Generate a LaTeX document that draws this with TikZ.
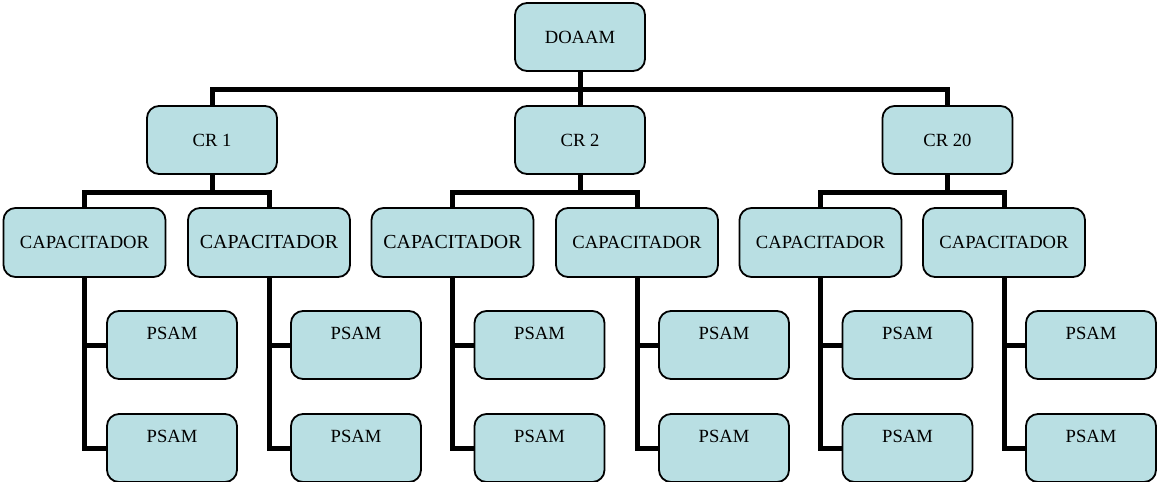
\documentclass[tikz,border=0pt]{standalone}
\usepackage{fontspec}
\setmainfont{Liberation Serif}
\definecolor{boxfill}{RGB}{185,223,227}

\begin{document}
\begin{tikzpicture}[x=1pt, y=-1pt,
        box/.style={draw, fill=boxfill, line width=1.8pt, rounded corners=12pt, inner sep=0pt, font=\fontsize{18.6}{20}\selectfont},
        unitbox/.style={box, minimum width=130pt, minimum height=68pt},
        capbox/.style={box, minimum width=162pt, minimum height=69pt},
        psambox/.style={box, minimum width=130pt, text height=28.5pt, text depth=39.5pt},
        link/.style={line width=5pt}]
        \useasboundingbox (0,0) rectangle (1157,482);

        \node[unitbox] (doaam) at (580,37) {DOAAM};
        \node[unitbox] (cr1) at (212,140) {CR 1};
        \node[unitbox] (cr2) at (580,140) {CR 2};
        \node[unitbox] (cr20) at (947.5,140) {CR 20};

        \node[capbox] (cap1l) at (84.5,242.5) {CAPACITADOR};
        \node[capbox, font=\fontsize{19.9}{21}\selectfont] (cap1r) at (269,242.5) {CAPACITADOR};
        \node[capbox, font=\fontsize{19.9}{21}\selectfont] (cap2l) at (452.5,242.5) {CAPACITADOR};
        \node[capbox] (cap2r) at (637,242.5) {CAPACITADOR};
        \node[capbox] (cap20l) at (820.5,242.5) {CAPACITADOR};
        \node[capbox] (cap20r) at (1004,242.5) {CAPACITADOR};

        \node[psambox] (p1la) at (172,345) {PSAM};
        \node[psambox] (p1lb) at (172,448) {PSAM};
        \node[psambox] (p1ra) at (356,345) {PSAM};
        \node[psambox] (p1rb) at (356,448) {PSAM};
        \node[psambox] (p2la) at (539.5,345) {PSAM};
        \node[psambox] (p2lb) at (539.5,448) {PSAM};
        \node[psambox] (p2ra) at (724,345) {PSAM};
        \node[psambox] (p2rb) at (724,448) {PSAM};
        \node[psambox] (p20la) at (907.5,345) {PSAM};
        \node[psambox] (p20lb) at (907.5,448) {PSAM};
        \node[psambox] (p20ra) at (1091,345) {PSAM};
        \node[psambox] (p20rb) at (1091,448) {PSAM};

        \draw[link] (doaam.south) -- ++(0,18) -| (cr1.north);
        \draw[link] (doaam.south) -- (cr2.north);
        \draw[link] (doaam.south) -- ++(0,18) -| (cr20.north);

        \draw[link] (cr1.south) -- ++(0,18) -| (cap1l.north);
        \draw[link] (cr1.south) -- ++(0,18) -| (cap1r.north);
        \draw[link] (cr2.south) -- ++(0,18) -| (cap2l.north);
        \draw[link] (cr2.south) -- ++(0,18) -| (cap2r.north);
        \draw[link] (cr20.south) -- ++(0,18) -| (cap20l.north);
        \draw[link] (cr20.south) -- ++(0,18) -| (cap20r.north);

        \draw[link] (cap1l.south) |- (p1la.west);
        \draw[link] (cap1l.south) |- (p1lb.west);
        \draw[link] (cap1r.south) |- (p1ra.west);
        \draw[link] (cap1r.south) |- (p1rb.west);
        \draw[link] (cap2l.south) |- (p2la.west);
        \draw[link] (cap2l.south) |- (p2lb.west);
        \draw[link] (cap2r.south) |- (p2ra.west);
        \draw[link] (cap2r.south) |- (p2rb.west);
        \draw[link] (cap20l.south) |- (p20la.west);
        \draw[link] (cap20l.south) |- (p20lb.west);
        \draw[link] (cap20r.south) |- (p20ra.west);
        \draw[link] (cap20r.south) |- (p20rb.west);
\end{tikzpicture}
\end{document}
